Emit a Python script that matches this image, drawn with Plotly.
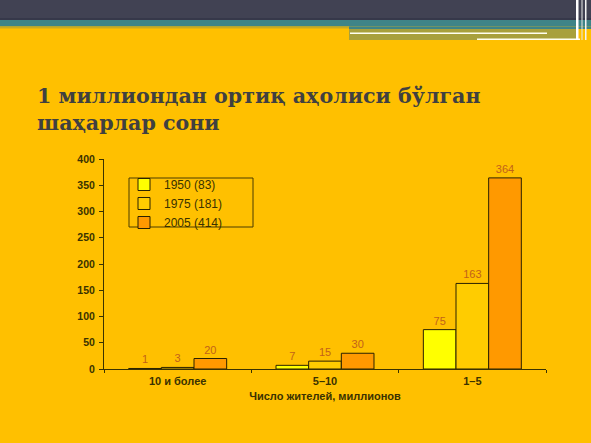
import plotly.graph_objects as go

# data
categories = ['10 и более', '5–10', '1–5']
years = ['1950 (83)', '1975 (181)', '2005 (414)']
vals_1950 = [1, 7, 75]
vals_1975 = [3, 15, 163]
vals_2005 = [20, 30, 364]
title_text = '1 миллиондан ортиқ аҳолиси бўлган<br>шаҳарлар сони'
x_title = 'Число жителей, миллионов'

W, H = 591, 443
L, R, T, B = 104, 546, 159, 369   # plot area in pixels


def fx(px):
    return (px - L) / (R - L)


def fy(py):
    return (B - py) / (B - T)


bg = '#FFC000'
bar_colors = ['#FFFF00', '#FFCC00', '#FF9900']
dark = '#3A3200'
label_col = '#C2621A'

fig = go.Figure()
for name, vals, col in zip(years, [vals_1950, vals_1975, vals_2005], bar_colors):
    fig.add_trace(go.Bar(x=categories, y=vals, name=name, marker_color=col,
                         marker_line_color='#2a2200', marker_line_width=1,
                         text=vals, textposition='outside', cliponaxis=False,
                         textfont=dict(color=label_col, size=11,
                                       family='Liberation Sans, Arial')))

# slide header bands
shapes = [
    dict(x0=0, x1=W, y0=0, y1=18, color='#414253'),
    dict(x0=0, x1=W, y0=18, y1=20, color='#36384a'),
    dict(x0=0, x1=W, y0=20, y1=26.5, color='#3E8487'),
    dict(x0=0, x1=349, y0=26.5, y1=28.5, color='#C8AA22'),
    dict(x0=349, x1=W, y0=26.5, y1=29, color='#3E8487'),
    dict(x0=349, x1=578, y0=29, y1=40, color='#A8A03C'),
    dict(x0=350, x1=547, y0=32.5, y1=34, color='#FFFFF0'),
    dict(x0=477, x1=580, y0=38.5, y1=40, color='#FFFFF0'),
    dict(x0=576, x1=578.5, y0=0, y1=40, color='#FFFFFF'),
    dict(x0=581.5, x1=582.5, y0=0, y1=40, color='#E8E8E8'),
    dict(x0=585, x1=586.5, y0=0, y1=40, color='#F4F4F4'),
]
for s in shapes:
    fig.add_shape(type='rect', xref='paper', yref='paper',
                  x0=fx(s['x0']), x1=fx(s['x1']), y0=fy(s['y1']), y1=fy(s['y0']),
                  fillcolor=s['color'], line_width=0, layer='above')

# legend frame
fig.add_shape(type='rect', xref='paper', yref='paper',
              x0=fx(129), x1=fx(253), y0=fy(227), y1=fy(178),
              line=dict(color='#4a3c00', width=1), fillcolor='rgba(0,0,0,0)')

fig.add_annotation(text=title_text, xref='paper', yref='paper',
                   x=fx(35), y=fy(109), xanchor='left', yanchor='middle',
                   align='left', showarrow=False,
                   font=dict(family='DejaVu Serif', size=20.6, color='#404040',
                             weight='bold'))

fig.update_layout(
    width=W, height=H, autosize=False,
    margin=dict(l=L, r=W - R, t=T, b=H - B, pad=0),
    paper_bgcolor=bg, plot_bgcolor=bg,
    barmode='group', bargap=0.335, bargroupgap=0,
    font=dict(family='Liberation Sans, Arial', size=10, color=dark),
    showlegend=True,
    legend=dict(x=fx(124), y=fy(170), xanchor='left', yanchor='top',
                bgcolor='rgba(0,0,0,0)', borderwidth=0, itemwidth=30,
                tracegroupgap=0,
                font=dict(size=12, color=dark)),
)
fig.update_xaxes(showline=True, linecolor=dark, linewidth=1,
                 ticks='outside', ticklen=3, tickcolor=dark,
                 tickson='boundaries', showgrid=False, ticklabelstandoff=2,
                 tickfont=dict(size=11, color=dark, weight='bold'),
                 title=dict(text=x_title, standoff=6,
                            font=dict(size=11, color=dark, weight='bold')))
fig.update_yaxes(range=[0, 400], dtick=50, showline=True, linecolor=dark,
                 linewidth=1, ticks='outside', ticklen=4, tickcolor=dark,
                 showgrid=False, zeroline=False, ticklabelstandoff=2,
                 tickfont=dict(size=10.5, color=dark, weight='bold'))

fig.write_html('out.html', config={'displayModeBar': False},
               post_script="document.body.style.margin='0';")
